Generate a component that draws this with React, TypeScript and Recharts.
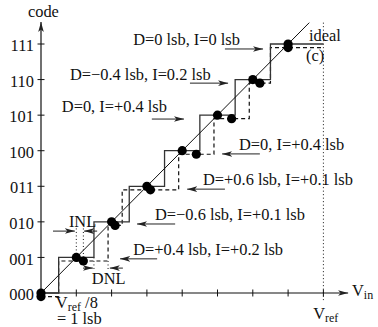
import { ComposedChart, Line, Scatter, XAxis, YAxis } from 'recharts'

const FONT = '"Liberation Serif", "Times New Roman", serif'
const INK = '#111'

// y tick labels (codes 0..7)
const codes = [0, 1, 2, 3, 4, 5, 6, 7]
const codeLabels = ['000', '001', '010', '011', '100', '101', '110', '111']
const xTicks = [1, 2, 3, 4, 5, 6, 7, 8]

// ideal staircase: transitions every lsb starting at 0.5
const idealStepX = [0, 0.5, 1.5, 2.5, 3.5, 4.5, 5.5, 6.5, 8]
const idealStepY = [0, 1, 2, 3, 4, 5, 6, 7, 7]

// measured staircase (drawn slightly below ideal so both show)
const actualStepX = [0, 0.5, 1.9, 2.3, 3.9, 4.9, 5.9, 6.5, 8]
const actualStepY = [-0.1, 0.9, 1.9, 2.9, 3.9, 4.9, 5.9, 6.9, 6.9]

// step midpoints
const idealMidX = [0, 1, 2, 3, 4, 5, 6, 7]
const idealMidY = [0, 1, 2, 3, 4, 5, 6, 7]
const actualMidX = [0, 1.2, 2.1, 3.1, 4.4, 5.4, 6.2, 7]
const actualMidY = [-0.1, 0.9, 1.9, 2.9, 3.9, 4.9, 5.9, 6.9]

const idealLine = [
  { x: 0, y: 0 },
  { x: 7.6, y: 7.6 },
]

// annotation arrows: [tailX, headX, y]
const arrows: [number, number, number][] = [
  [5.21, 6.29, 6.86],
  [4.22, 5.3, 5.9],
  [3.14, 4.05, 4.89],
  [6.2, 5.13, 3.91],
  [5.21, 4.14, 2.92],
  [3.8, 2.72, 1.94],
  [3.29, 2.24, 0.96],
  // INL
  [0.34, 0.96, 1.74],
  [1.59, 1.22, 1.74],
  // DNL
  [1.19, 1.47, 0.7],
  [2.32, 1.95, 0.7],
]

// dotted helper lines: [x, y1, y2]
const dottedLines: [number, number, number][] = [
  [1.0, 1.0, 1.86],
  [1.2, 0.9, 1.86],
  [1.5, 1.0, 0.62],
  [1.9, 0.9, 0.62],
  [8, 7.6, -0.2],
]

const labels = [
  { x: -0.37, y: 7.76, text: 'code' },
  { x: 2.61, y: 6.97, text: 'D=0 lsb, I=0 lsb' },
  { x: 0.82, y: 5.99, text: 'D=−0.4 lsb, I=0.2 lsb' },
  { x: 0.59, y: 5.09, text: 'D=0, I=+0.4 lsb' },
  { x: 5.61, y: 4.02, text: 'D=0, I=+0.4 lsb' },
  { x: 4.59, y: 3.04, text: 'D=+0.6 lsb, I=+0.1 lsb' },
  { x: 3.23, y: 2.05, text: 'D=−0.6 lsb, I=+0.1 lsb' },
  { x: 2.61, y: 1.07, text: 'D=+0.4 lsb, I=+0.2 lsb' },
  { x: 7.59, y: 7.08, text: 'ideal' },
  { x: 7.51, y: 6.52, text: '(c)' },
  { x: 0.79, y: 1.86, text: 'INL' },
  { x: 1.44, y: 0.25, text: 'DNL' },
  { x: 0.42, y: -0.41, text: 'V', sub: 'ref', after: ' /8' },
  { x: 0.45, y: -0.87, text: '= 1 lsb' },
  { x: 7.71, y: -0.73, text: 'V', sub: 'ref' },
  { x: 8.81, y: -0.08, text: 'V', sub: 'in' },
]

// code labels sit left of the y axis, right-aligned
const codeLabelPoints = codes.map((c) => ({ x: -0.2, y: c - 0.2, text: codeLabels[c], anchor: 'end' }))

const toPoints = (xs: number[], ys: number[]) => xs.map((x, i) => ({ x, y: ys[i] }))

const renderLabel = (p: any) => {
  const d = p.payload
  return (
    <text
      x={p.cx}
      y={p.cy}
      fontSize={16.4}
      fontFamily={FONT}
      fill={INK}
      textAnchor={d.anchor ?? 'start'}
    >
      {d.text}
      {d.sub && (
        <tspan dy={3.5} fontSize={12}>
          {d.sub}
        </tspan>
      )}
      {d.after && <tspan dy={-3.5}>{d.after}</tspan>}
    </text>
  )
}

const renderDot = (p: any) => <circle cx={p.cx} cy={p.cy} r={4.6} fill="#000" />

const renderXTick = (p: any) => (
  <line x1={p.cx} x2={p.cx} y1={p.cy - 3.5} y2={p.cy + 3.5} stroke={INK} strokeWidth={1} />
)
const renderYTick = (p: any) => (
  <line x1={p.cx - 3.5} x2={p.cx + 3.5} y1={p.cy} y2={p.cy} stroke={INK} strokeWidth={1} />
)

const seg = (x1: number, y1: number, x2: number, y2: number) => [
  { x: x1, y: y1 },
  { x: x2, y: y2 },
]

export default function App() {
  return (
    <div style={{ position: 'absolute', left: 0, top: 0, background: '#fff' }}>
      <ComposedChart width={378} height={327} margin={{ top: 0, right: 0, bottom: 0, left: 0 }}>
        <defs>
          <marker
            id="ah"
            markerUnits="userSpaceOnUse"
            markerWidth={11}
            markerHeight={8}
            refX={10}
            refY={4}
            orient="auto"
          >
            <path d="M0,1.2 L10,4 L0,6.8 L2.5,4 Z" fill="#222" />
          </marker>
        </defs>
        <XAxis dataKey="x" type="number" domain={[-1.1615, 9.5467]} hide />
        <YAxis dataKey="y" type="number" domain={[-0.956, 8.237]} hide />

        {/* axes with arrows */}
        <Line
          data={seg(0, 0, 8.7, 0)}
          dataKey="y"
          stroke={INK}
          strokeWidth={1.2}
          dot={false}
          activeDot={false}
          markerEnd="url(#ah)"
          isAnimationActive={false}
        />
        <Line
          data={seg(0, 0, 0, 7.62)}
          dataKey="y"
          stroke={INK}
          strokeWidth={1.2}
          dot={false}
          activeDot={false}
          markerEnd="url(#ah)"
          isAnimationActive={false}
        />
        <Scatter data={xTicks.map((x) => ({ x, y: 0 }))} shape={renderXTick} isAnimationActive={false} />
        <Scatter data={codes.map((y) => ({ x: 0, y }))} shape={renderYTick} isAnimationActive={false} />

        {/* dotted helpers */}
        {dottedLines.map(([x, y1, y2], i) => (
          <Line
            key={`d${i}`}
            data={seg(x, y1, x, y2)}
            dataKey="y"
            stroke={INK}
            strokeWidth={1}
            strokeDasharray="1 2.5"
            dot={false}
            activeDot={false}
            isAnimationActive={false}
          />
        ))}

        {/* staircases */}
        <Line
          data={toPoints(actualStepX, actualStepY)}
          type="stepAfter"
          dataKey="y"
          stroke={INK}
          strokeWidth={1.2}
          strokeDasharray="4 3"
          dot={false}
          activeDot={false}
          isAnimationActive={false}
        />
        <Line
          data={toPoints(idealStepX, idealStepY)}
          type="stepAfter"
          dataKey="y"
          stroke="#333"
          strokeWidth={1.3}
          dot={false}
          activeDot={false}
          isAnimationActive={false}
        />
        <Line
          data={idealLine}
          dataKey="y"
          stroke={INK}
          strokeWidth={1}
          dot={false}
          activeDot={false}
          isAnimationActive={false}
        />

        {/* annotation arrows */}
        {arrows.map(([x1, x2, y], i) => (
          <Line
            key={`a${i}`}
            data={seg(x1, y, x2, y)}
            dataKey="y"
            stroke="#222"
            strokeWidth={1}
            dot={false}
            activeDot={false}
            markerEnd="url(#ah)"
            isAnimationActive={false}
          />
        ))}

        <Scatter data={toPoints(actualMidX, actualMidY)} shape={renderDot} isAnimationActive={false} />
        <Scatter data={toPoints(idealMidX, idealMidY)} shape={renderDot} isAnimationActive={false} />
        <Scatter data={labels} shape={renderLabel} isAnimationActive={false} />
        <Scatter data={codeLabelPoints} shape={renderLabel} isAnimationActive={false} />
      </ComposedChart>
    </div>
  )
}
